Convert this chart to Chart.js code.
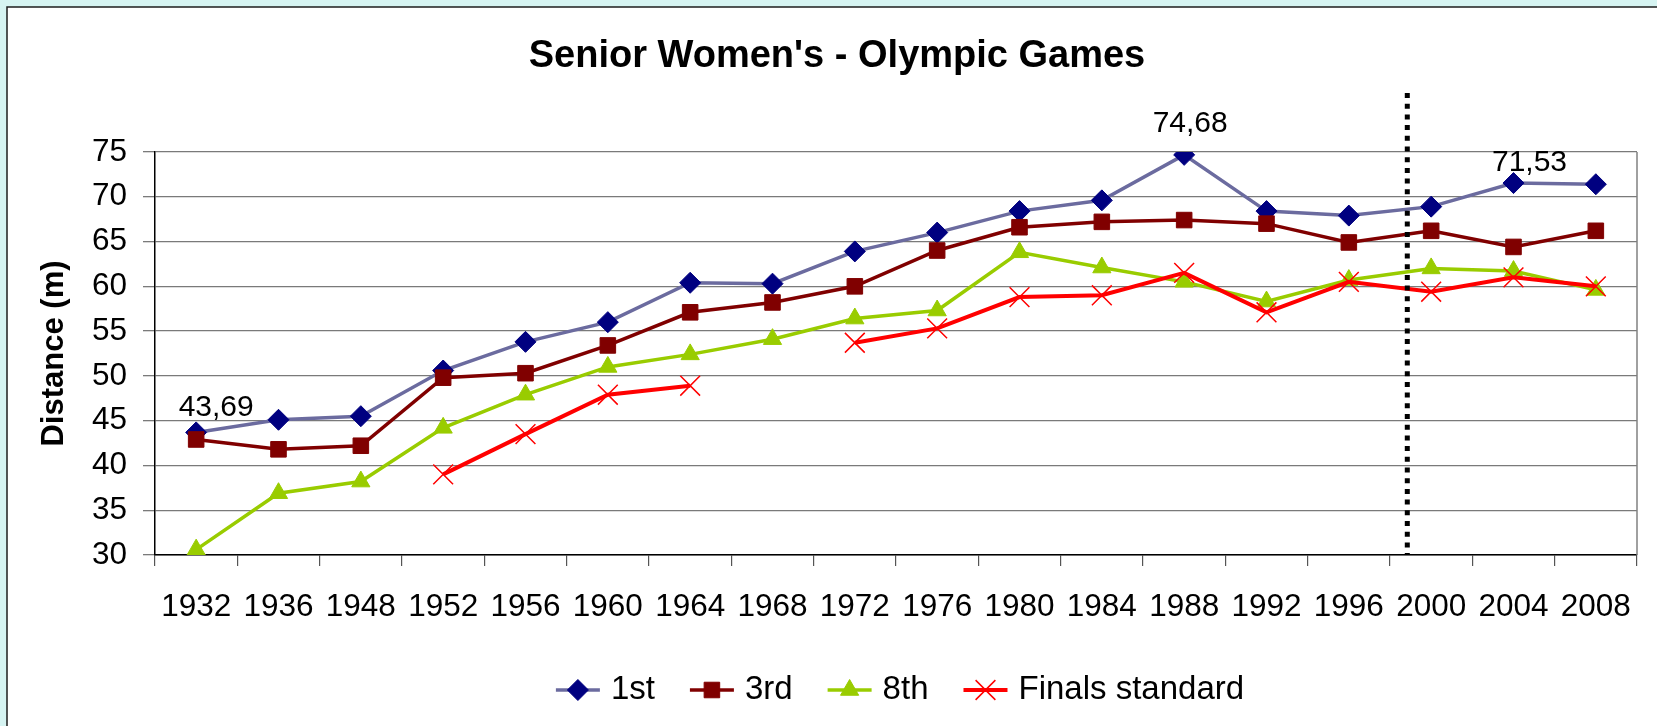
<!DOCTYPE html>
<html>
<head>
<meta charset="utf-8">
<script src="https://cdn.jsdelivr.net/npm/chart.js@4.4.1/dist/chart.umd.min.js"></script>
<style>
  html, body { margin: 0; padding: 0; background: #d6f4f2; overflow: hidden; }
</style>
</head>
<body>
<canvas id="myChart" width="1657" height="726"></canvas>
<script>
// data
const chartTitle = "Senior Women's - Olympic Games";
const yTitle = 'Distance (m)';
const years = ['1932', '1936', '1948', '1952', '1956', '1960', '1964', '1968', '1972',
               '1976', '1980', '1984', '1988', '1992', '1996', '2000', '2004', '2008'];
const seriesNames = ['1st', '3rd', '8th', 'Finals standard'];
const first  = [43.69, 45.1, 45.5, 50.6, 53.8, 56.0, 60.4, 60.3, 63.9, 66.0, 68.4, 69.6, 74.68, 68.4, 67.9, 68.9, 71.53, 71.4];
const third  = [42.9, 41.8, 42.2, 49.8, 50.3, 53.4, 57.1, 58.2, 60.0, 64.0, 66.6, 67.2, 67.4, 67.0, 64.9, 66.2, 64.4, 66.2];
const eighth = [30.6, 36.9, 38.2, 44.2, 47.9, 51.0, 52.4, 54.1, 56.4, 57.3, 63.8, 62.1, 60.5, 58.3, 60.7, 62.0, 61.7, 59.6];
const finals = [null, null, null, 39.0, 43.5, 47.9, 48.9, null, 53.7, 55.3, 58.8, 59.0, 61.5, 57.1, 60.5, 59.4, 61.0, 60.0];
const yMin = 30, yMax = 75, yStep = 5;
const labelledPoints = [0, 12, 16];   // points of "1st" that carry a value label
const dividerAfter = '1996';          // dotted separator sits after this year

const ctx = document.getElementById('myChart');
const fontFamily = "'Liberation Sans', Arial, sans-serif";
Chart.defaults.font.family = fontFamily;
Chart.defaults.color = '#000';

const looks = [
  { line: '#6b6b9f', fill: '#000080', shape: 'rectRot', r: 10.5, bw: 1, w: 3.5 },
  { line: '#800000', fill: '#800000', shape: 'rect', r: 11, bw: 1, w: 3.5 },
  { line: '#99cc00', fill: '#99cc00', shape: 'triangle', r: 10.5, bw: 1, w: 3.5 },
  { line: '#ff0000', fill: '#ff0000', shape: 'crossRot', r: 14, bw: 1.5, w: 4 }
];

const datasets = [first, third, eighth, finals].map((vals, i) => ({
  label: seriesNames[i],
  data: vals,
  borderColor: looks[i].line,
  backgroundColor: looks[i].fill,
  borderWidth: looks[i].w,
  pointStyle: looks[i].shape,
  pointRadius: looks[i].r,
  pointHoverRadius: looks[i].r,
  pointBackgroundColor: looks[i].fill,
  pointBorderColor: looks[i].fill,
  pointBorderWidth: looks[i].bw,
  tension: 0,
  spanGaps: false,
  order: 4 - i
}));

const framePlugin = {
  id: 'frame',
  beforeDraw(chart) {
    const c = chart.ctx;
    c.save();
    c.fillStyle = '#d6f4f2';
    c.fillRect(0, 0, chart.width, chart.height);
    c.fillStyle = '#ffffff';
    c.fillRect(7, 7, chart.width - 7, chart.height - 7);
    c.strokeStyle = '#1e1e1e';
    c.lineWidth = 1.5;
    c.beginPath();
    c.moveTo(7, chart.height);
    c.lineTo(7, 7);
    c.lineTo(chart.width, 7);
    c.stroke();
    c.fillStyle = '#000';
    c.font = 'bold 38px ' + fontFamily;
    c.textAlign = 'center';
    c.textBaseline = 'middle';
    c.fillText(chartTitle, 837, 57);
    c.restore();
  },
  beforeDatasetsDraw(chart) {
    const a = chart.chartArea;
    const c = chart.ctx;
    c.save();
    c.strokeStyle = '#808080';
    c.lineWidth = 1.5;
    c.beginPath();
    c.moveTo(a.right, a.top);
    c.lineTo(a.right, a.bottom);
    c.stroke();
    c.restore();
  },
  afterDatasetsDraw(chart) {
    const c = chart.ctx;
    const x = chart.scales.x;
    const i = years.indexOf(dividerAfter);
    const p0 = x.getPixelForValue(i), p1 = x.getPixelForValue(i + 1);
    const px = p0 + 0.71 * (p1 - p0);
    c.save();
    c.strokeStyle = '#000';
    c.lineWidth = 5;
    c.setLineDash([5, 5.7]);
    c.beginPath();
    c.moveTo(px, chart.chartArea.top - 59);
    c.lineTo(px, chart.chartArea.bottom);
    c.stroke();
    c.setLineDash([]);

    // value labels on the "1st" series
    const meta = chart.getDatasetMeta(0);
    const shift = [[20, -25], [6, -31], [16, -20]];
    c.font = '30px ' + fontFamily;
    c.fillStyle = '#000';
    c.textAlign = 'center';
    c.textBaseline = 'middle';
    labelledPoints.forEach((idx, k) => {
      const pt = meta.data[idx];
      c.fillText(first[idx].toFixed(2).replace('.', ','), pt.x + shift[k][0], pt.y + shift[k][1]);
    });
    c.restore();
  },
  afterDraw(chart) {
    // legend: line sample with marker, then the name
    const c = chart.ctx;
    const a = chart.chartArea;
    const sets = chart.data.datasets;
    const lineW = 44, gapText = 11, gapItem = 35, y = 690;
    c.save();
    c.font = '33px ' + fontFamily;
    const widths = sets.map(ds => c.measureText(ds.label).width);
    let total = gapItem * (sets.length - 1);
    widths.forEach(w => { total += lineW + gapText + w; });
    let x = (a.left + a.right) / 2 + 4 - total / 2;
    sets.forEach((ds, i) => {
      c.strokeStyle = ds.borderColor;
      c.lineWidth = ds.borderWidth;
      c.beginPath();
      c.moveTo(x, y);
      c.lineTo(x + lineW, y);
      c.stroke();
      c.fillStyle = ds.pointBackgroundColor;
      c.strokeStyle = ds.pointBorderColor;
      c.lineWidth = ds.pointBorderWidth;
      Chart.helpers.drawPoint(c, { pointStyle: ds.pointStyle, radius: ds.pointRadius, borderWidth: ds.pointBorderWidth, rotation: 0 }, x + lineW / 2, y);
      c.fillStyle = '#000';
      c.textAlign = 'left';
      c.textBaseline = 'middle';
      c.fillText(ds.label, x + lineW + gapText, y);
      x += lineW + gapText + widths[i] + gapItem;
    });
    c.restore();
  }
};

const myChart = new Chart(ctx, {
  type: 'line',
  data: { labels: years, datasets: datasets },
  options: {
    responsive: false,
    animation: false,
    devicePixelRatio: 1,
    layout: { padding: { left: 0, top: 152, right: 20, bottom: 81 } },
    plugins: {
      legend: { display: false },
      title: { display: false },
      tooltip: { enabled: false }
    },
    scales: {
      x: {
        offset: true,
        grid: { offset: true, drawOnChartArea: false, drawTicks: true, tickLength: 11, color: '#555', lineWidth: 1.2 },
        border: { display: true, color: '#000', width: 1.5 },
        ticks: { font: { size: 31.5 }, padding: 22, maxRotation: 0, autoSkip: false, color: '#000' },
        afterFit(scale) { scale.height = 90; }
      },
      y: {
        min: yMin,
        max: yMax,
        grid: { color: '#7a7a7a', lineWidth: 1.3, tickLength: 12 },
        border: { display: true, color: '#000', width: 1.5 },
        ticks: { stepSize: yStep, font: { size: 31.5 }, padding: 16, color: '#000' },
        title: { display: true, text: yTitle, font: { size: 31, weight: 'bold', lineHeight: 1 }, padding: { top: 39, bottom: 0 }, color: '#000' },
        afterFit(scale) { scale.width = 155; }
      }
    }
  },
  plugins: [framePlugin]
});
</script>
</body>
</html>
